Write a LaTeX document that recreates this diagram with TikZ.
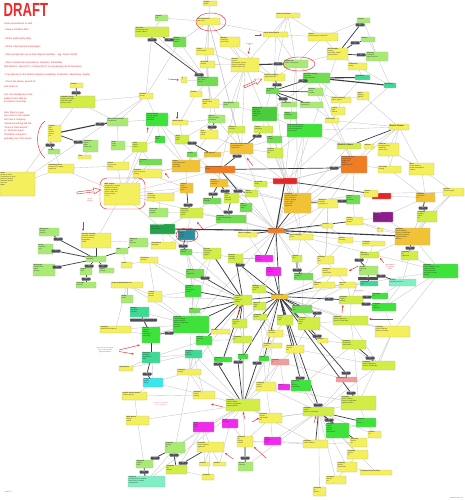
\documentclass[tikz,border=0pt]{standalone}
\usepackage{fontspec}
\setmainfont{Liberation Sans}
\usetikzlibrary{backgrounds,arrows.meta}
\definecolor{cY}{HTML}{F4EF5C}
\definecolor{cYG}{HTML}{D4EC46}
\definecolor{cLG}{HTML}{A8EA72}
\definecolor{cG}{HTML}{72DC52}
\definecolor{cBG}{HTML}{3EE23A}
\definecolor{cBG2}{HTML}{4CCC3C}
\definecolor{cDG}{HTML}{24A44A}
\definecolor{cTG}{HTML}{3CDA94}
\definecolor{cLT}{HTML}{80F0C4}
\definecolor{cOY}{HTML}{F2C236}
\definecolor{cOR}{HTML}{F07C24}
\definecolor{cRD}{HTML}{E42626}
\definecolor{cMG}{HTML}{F02AEA}
\definecolor{cPU}{HTML}{8E1C8E}
\definecolor{cCY}{HTML}{3AE6EC}
\definecolor{cSA}{HTML}{F29C9C}
\definecolor{cTD}{HTML}{2A8E9E}
\definecolor{lg}{HTML}{C6C6C6}
\definecolor{dk}{HTML}{3A3A42}
\definecolor{eg}{HTML}{50505C}
\definecolor{rA}{HTML}{EE2A2A}
\definecolor{pk}{HTML}{F07878}
\tikzset{
 box/.style={draw=black!28, line width=0.2pt, rounded corners=0.4pt, inner sep=0pt},
 btx/.style={inner sep=0pt, align=left, font=\fontsize{1.6}{1.95}\selectfont, text=black!80},
 elab/.style={fill=eg, draw=none, rounded corners=0.6pt, minimum width=9pt, minimum height=3pt, inner sep=0pt, font=\fontsize{1.2}{1.2}\selectfont, text=white},
 gl/.style={draw=lg, line width=0.35pt},
 dl/.style={draw=dk, line width=0.7pt},
 tdl/.style={draw=dk, line width=1.1pt},
 ann/.style={draw=rA, line width=0.45pt},
 arr/.style={ann,-{Stealth[length=2.4pt,width=2pt]}},
 rt/.style={text=rA, font=\fontsize{2.4}{3.6}\selectfont, inner sep=0pt, align=left},
 rs/.style={text=rA, font=\fontsize{1.5}{1.8}\selectfont, inner sep=0pt, align=center},
 gt/.style={text=black!55, font=\fontsize{1.8}{2}\selectfont, inner sep=0pt},
}
\newcommand\bx[7]{\node[box,fill=#6,minimum width={(#4-#2)*1pt},minimum height={(#5-#3)*1pt}] (#1) at ({(#2+#4)/2},{(#3+#5)/2}) {};
\node[btx,anchor=north west] (#1t) at ([shift={(0.7pt,-0.6pt)}]#1.north west) {#7};}
\newcommand\el[3]{\node[elab] (#1) at (#2,#3) {link};}
\begin{document}
\begin{tikzpicture}[x=1pt,y=-1pt]
\useasboundingbox (0,0) rectangle (465,500);
% ---------- title and notes ----------
\node[anchor=base west, inner sep=0, text=rA, font=\fontsize{19}{19}\selectfont\bfseries] (draft) at (3.5,17) {\scalebox{0.69}[1]{DRAFT}};
\node[rt,anchor=base west] (t1) at (4,25) {Some associations to add:};
\node[rt,anchor=base west] (t2) at (4,31) {- Steven and Man Rick};
\node[rt,anchor=base west] (t3) at (4,39.5) {- All the preferred by Billy};
\node[rt,anchor=base west] (t4) at (4,48) {- All the Lolly Express Passengers};
\node[rt,anchor=base west] (t5) at (4,56) {- Other people who are in that network and their... (eg. Xavier Smith)};
\node[rt,anchor=north west] (t6) at (4,61.5) {- Xtra's commercial associations, networks, friendships\\(friendship?), interest (?), commercial (?) (some people just do business)};
\node[rt,anchor=base west] (t8) at (4,76) {- Pay attention to the fashion industry (modelling, production, advertising, media)};
\node[rt,anchor=base west] (t9) at (4,83) {- Check the above, search for};
\node[rt,anchor=base west] (t10) at (4,88) {Kim DotCom};
\node[rt,anchor=north west] (t11) at (4,93.5) {You can already see some\\patterns here with an\\ecosystem involving.};
\node[rt,anchor=north west,font=\fontsize{2.4}{3.7}\selectfont] (t14) at (4,111.3) {Also, there's a guy\\very close to the captain\\who has a company\\named something like the\\"Dotcom International"\\or "Dotcom Invest".\\I find that connection\\probably one of his series.};
% ---------- nodes ----------
\bx{n1}{203}{1}{217}{6}{cY}{\textbf{Contact}\\details}
\bx{n2}{197}{18}{220}{25}{cY}{\textbf{The Connection}\\see notes}
\bx{n3}{276}{13}{300}{18}{cY}{\textbf{Person of interest}}
\bx{n4}{155}{15}{168}{21}{cLG}{\textbf{Contact}\\link}
\bx{n5}{135}{27}{169}{37}{cYG}{\textbf{Associate}\\Company director\\investor, partner}
\bx{n6}{173}{37}{186}{47}{cG}{\textbf{Partner}\\business\\relation}
\bx{n7}{220}{37}{240}{47}{cY}{\textbf{Manager}\\holding co.\\since 2009}
\bx{n8}{263}{32}{288}{37}{cY}{\textbf{Group Development}}
\bx{n9}{308}{33}{338}{41}{cY}{\textbf{Owner}\\advertising and media firm}
\bx{n10}{196}{48}{214}{55}{cY}{\textbf{Friend}\\social contact}
\bx{n11}{231}{58}{259}{72}{cY}{\textbf{Investor}\\Partner\\shareholder, director\\several companies\\linked entities 2011}
\bx{n12}{200}{61}{215}{68}{cY}{\textbf{Associate}\\founder}
\bx{n13}{284}{60}{308}{68}{cLG}{\textbf{Key Person}\\media, investments}
\bx{n14}{264}{74}{285}{81}{cY}{\textbf{Holding company}\\registered 2008}
\bx{n15}{266}{88}{279}{94}{cG}{\textbf{Company}\\owner}
\bx{n16}{303}{73}{330}{83}{cG}{\textbf{Network company}\\subsidiary\\registered office}
\bx{n17}{308}{88}{323}{96}{cLG}{\textbf{Director}\\board\\member}
\bx{n18}{281}{102}{297}{107}{cLG}{\textbf{Shareholder}}
\bx{n19}{300}{102}{323}{108}{cLG}{\textbf{Shareholder}\\company ltd}
\bx{n20}{181}{77}{187}{83}{cY}{\textbf{X}\\?}
\bx{n21}{197}{77}{218}{86}{cG}{\textbf{Production co.}\\film, music\\events}
\bx{n22}{190}{91}{202}{97}{cY}{\textbf{Contact}}
\bx{n23}{202}{99}{219}{108}{cY}{\textbf{Designer}\\fashion label\\studio}
\bx{n24}{223}{102}{239}{108}{cLG}{\textbf{Photographer}\\studio}
\bx{n25}{172}{120}{188}{125}{cY}{\textbf{Model agency}}
\bx{n26}{208}{115}{225}{123}{cLG}{\textbf{Agency}\\talent, models\\promotion}
\bx{n27}{252}{107}{277}{121}{cBG2}{\textbf{Media group}\\television\\radio, print\\advertising\\events}
\bx{n28}{284}{112}{297}{119}{cG}{\textbf{Studio}\\recording}
\bx{n29}{200}{130}{218}{139}{cY}{\textbf{Club}\\nightlife\\venue}
\bx{n30}{228}{126}{245}{133}{cYG}{\textbf{Event co.}\\promoter}
\bx{n31}{254}{126}{273}{133}{cYG}{\textbf{Partner}\\marketing}
\bx{n32}{287}{124}{322}{137}{cBG}{\textbf{Entertainment group}\\music, film, television\\artists management\\international}
\bx{n33}{267}{136}{282}{143}{cG}{\textbf{Label}\\records}
\bx{n34}{267}{148}{283}{158}{cYG}{\textbf{Director}\\producer\\film}
\bx{n35}{230}{143}{253}{154}{cOY}{\textbf{Business Development}\\consulting group\\investments}
\bx{n36}{175}{135}{189}{144}{cYG}{\textbf{Artist}\\singer\\band}
\bx{n37}{187}{152}{197}{157}{cG}{\textbf{Friend}}
\bx{n38}{204}{152}{221}{157}{cOY}{\textbf{Lolly Express}}
\bx{n39}{172}{160}{200}{172}{cOY}{\textbf{Owner}\\restaurants, clubs\\hospitality\\since 2005}
\bx{n40}{205}{166}{235}{173}{cOR}{\textbf{Holding International}\\group}
\bx{n41}{357}{18}{370}{23}{cLG}{\textbf{Contact}}
\bx{n42}{327}{48}{348}{60}{cY}{\textbf{Businessman}\\investor\\real estate, media\\entertainment}
\bx{n43}{361}{37}{375}{42}{cLG}{\textbf{Partner}}
\bx{n44}{366}{52}{388}{61}{cLG}{\textbf{Company}\\holding ltd\\registered 2010}
\bx{n45}{348}{63}{367}{70}{cY}{\textbf{Foundation}\\charity}
\bx{n46}{355}{75}{370}{80}{cTG}{\textbf{Subsidiary}}
\bx{n47}{384}{83}{396}{88}{cTG}{\textbf{Subsidiary}}
\bx{n48}{331}{97}{351}{103}{cY}{\textbf{Trading company}\\import, export}
\bx{n49}{357}{92}{369}{100}{cY}{\textbf{Agent}\\shipping\\logistics}
\bx{n50}{331}{107}{345}{115}{cY}{\textbf{Lawyer}\\legal\\counsel}
\bx{n51}{325}{118}{339}{123}{cY}{\textbf{Accountant}}
\bx{n52}{389}{124}{409}{130}{cY}{\textbf{\fontsize{2}{2}\selectfont Barack Obama}}
\bx{n53}{337}{143}{361}{149}{cYG}{\textbf{\fontsize{2}{2}\selectfont Michelle Obama}}
\bx{n54}{364}{144}{374}{149}{cY}{\textbf{Advisor}}
\bx{n55}{378}{143}{399}{156}{cY}{\textbf{Politician}\\campaign donor\\fundraiser\\events 2012}
\bx{n56}{341}{156}{367}{173}{cOR}{\textbf{Investment Fund}\\private equity\\hedge fund\\offshore\\registered 2007}
\bx{n57}{378}{166}{401}{173}{cY}{\textbf{Consultant}\\strategy}
\bx{n58}{409}{163}{434}{175}{cY}{\textbf{Bank}\\private banking\\wealth management\\offshore}
\bx{n60}{70}{83}{83}{88}{cY}{\textbf{Contact}}
\bx{n61}{60}{96}{95}{108}{cYG}{\textbf{Company Group}\\holding, real estate\\retail and media\\director, owner}
\bx{n62}{139}{93}{153}{99}{cY}{\textbf{Investor}\\partner}
\bx{n63}{146}{113}{168}{126}{cBG}{\textbf{Fashion house}\\clothing, design\\retail stores\\worldwide}
\bx{n64}{155}{136}{165}{143}{cBG}{\textbf{Brand}\\label}
\bx{n65}{48}{125}{61}{142}{cY}{\textbf{Captain}\\pilot\\airline\\aviation\\charter\\jets}
\bx{n66}{48}{149}{60}{154}{cLG}{\textbf{Airline}}
\bx{n67}{83}{140}{98}{152}{cLG}{\textbf{Aviation co.}\\charter\\flights\\private jets}
\bx{n68}{107}{118}{128}{126}{cLG}{\textbf{Dotcom International}\\investments}
\bx{n69}{111}{141}{125}{150}{cLG}{\textbf{Hotel}\\resort\\owner}
\bx{n70}{132}{142}{147}{152}{cYG}{\textbf{Yacht}\\charter\\marina}
\bx{n71}{78}{155}{91}{159}{cY}{\textbf{Pilot}}
\bx{n72}{48}{164}{74}{173}{cY}{\textbf{Something Invest}\\investment company\\registered}
\bx{n73}{107}{162}{129}{170}{cY}{\textbf{Partner}\\joint venture\\trading}
\bx{n74}{139}{159}{162}{165}{cG}{\textbf{Company}\\ltd}
\bx{n75}{0}{172}{35}{196}{cY}{\textbf{Notes}\\people to check\\connections to verify\\business network\\links and sources\\see also\\\textbf{more}}
\bx{n76}{104}{183}{140}{205}{cY}{\textbf{Main subject}\\entrepreneur, investor\\founder of several\\internet companies\\music, media, film\\links to fashion\\\textcolor{blue!60}{website}}
\bx{n77}{133}{169}{162}{178}{cY}{\textbf{Company}\\internet services\\hosting}
\bx{n78}{147}{193}{174}{201}{cY}{\textbf{Partner}\\co-founder\\technology}
\bx{n79}{149}{208}{168}{217}{cLG}{\textbf{Developer}\\software\\engineer}
\bx{n80}{150}{224}{175}{234}{cDG}{\color{white}\textbf{Internet company}\\file sharing\\cloud storage}
\bx{n81}{151}{242}{176}{249}{cY}{\textbf{Programmer}\\developer}
\bx{n82}{39}{228}{59}{236}{cLG}{\textbf{Bodyguard}\\security\\services}
\bx{n83}{81}{233}{111}{248}{cY}{\textbf{Security company}\\protection services\\personal security\\bodyguards\\events}
\bx{n84}{129}{238}{148}{247}{cLG}{\textbf{Employee}\\staff\\assistant}
\bx{n85}{38}{244}{53}{254}{cLG}{\textbf{Driver}\\chauffeur\\cars}
\bx{n86}{116}{248}{128}{254}{cLG}{\textbf{Staff}}
\bx{n87}{86}{256}{106}{262}{cLG}{\textbf{Security team}\\members}
\bx{n88}{121}{262}{132}{268}{cY}{\textbf{Guard}}
\bx{n89}{140}{257}{158}{263}{cY}{\textbf{Residence}\\mansion}
\bx{n90}{33}{264}{55}{276}{cLG}{\textbf{Bodyguard}\\former police\\officer\\security}
\bx{n91}{80}{268}{92}{275}{cLG}{\textbf{Guard}\\staff}
\bx{n92}{99}{268}{114}{273}{cLG}{\textbf{Guard}\\security}
\bx{n93}{76}{282}{96}{288}{cLG}{\textbf{Assistant}\\personal}
\bx{n94}{111}{282}{143}{288}{cY}{\textbf{Property Management Ltd}}
\bx{n95}{121}{295}{133}{303}{cLG}{\textbf{Estate}\\owner}
\bx{n96}{148}{291}{162}{302}{cY}{\textbf{Lawyer}\\law firm\\partner}
\bx{n97}{130}{307}{149}{317}{cTG}{\textbf{Manager}\\operations\\company}
\bx{n98}{142}{327}{160}{343}{cBG}{\textbf{Director}\\company\\founder\\chief officer\\technology}
\bx{n99}{100}{326}{131}{333}{cY}{\textbf{Company}\\software development}
\bx{n100}{142}{352}{160}{363}{cTG}{\textbf{Employee}\\developer\\programmer\\staff}
\bx{n101}{119}{366}{133}{371}{cY}{\textbf{Programmer}}
\bx{n102}{143}{378}{163}{387}{cCY}{\textbf{Designer}\\graphic\\design}
\bx{n103}{122}{392}{147}{400}{cY}{\textbf{Graphic Design Studio}\\creative agency}
\bx{n104}{126}{416}{149}{425}{cY}{\textbf{Web agency}\\design\\online}
\bx{n105}{136}{460}{153}{468}{cLG}{\textbf{Employee}\\support\\team}
\bx{n106}{128}{476}{165}{487}{cLT}{\textbf{Company}\\hosting, servers, network\\data centre, providers\\infrastructure}
\bx{n107}{273}{178}{297}{184}{cRD}{\color{white}\textbf{Kim Dotcom}}
\bx{n108}{180}{183}{193}{193}{cOY}{\textbf{Partner}\\owner\\company\\since}
\bx{n109}{210}{179}{228}{187}{cOY}{\textbf{Partner}\\investment\\company}
\bx{n110}{254}{181}{267}{187}{cYG}{\textbf{Associate}\\friend}
\bx{n111}{203}{198}{221}{204}{cG}{\textbf{Employee}\\manager}
\bx{n112}{224}{193}{239}{203}{cYG}{\textbf{Officer}\\chief\\financial\\company}
\bx{n113}{245}{190}{258}{197}{cYG}{\textbf{Officer}\\technical}
\bx{n114}{240}{203}{252}{212}{cG}{\textbf{Staff}\\member\\team}
\bx{n115}{284}{193}{311}{213}{cOY}{\textbf{Company}\\founder and CEO\\online services\\internet, storage\\music, video\\since 2005\\registered}
\bx{n116}{180}{208}{203}{218}{cYG}{\textbf{Company}\\advertising\\network\\online}
\bx{n117}{216}{215}{246}{223}{cG}{\textbf{Company}\\payment processing\\online}
\bx{n118}{268}{228}{284}{233}{cOR}{\textbf{Mega Group}}
\bx{n119}{178}{230}{195}{240}{cTD}{\color{white}\textbf{Company}\\limited\\founder\\director}
\bx{n120}{238}{232}{257}{237}{cY}{\textbf{Music company}}
\bx{n121}{289}{234}{313}{240}{cY}{\textbf{Video company}\\online}
\bx{n122}{180}{249}{192}{255}{cG}{\textbf{Founder}\\director}
\bx{n123}{203}{248}{221}{259}{cYG}{\textbf{Director}\\shareholder\\company\\register}
\bx{n124}{228}{254}{243}{263}{cYG}{\textbf{Director}\\manager\\company}
\bx{n125}{255}{255}{273}{262}{cMG}{\textbf{Artist}\\singer\\musician}
\bx{n126}{266}{267}{281}{276}{cMG}{\textbf{Artist}\\musician\\producer}
\bx{n127}{292}{255}{302}{262}{cYG}{\textbf{Partner}\\firm}
\bx{n128}{294}{273}{313}{280}{cG}{\textbf{Company}\\services\\ltd}
\bx{n129}{313}{282}{335}{288}{cY}{\textbf{Company}\\limited}
\bx{n130}{186}{269}{204}{278}{cG}{\textbf{Company}\\ltd\\registered}
\bx{n131}{185}{285}{201}{297}{cBG}{\textbf{Company}\\director\\shareholder\\founder}
\bx{n132}{252}{285}{266}{293}{cYG}{\textbf{Manager}\\company\\team}
\bx{n133}{271}{294}{288}{299}{cOY}{\textbf{Mega Company}}
\bx{n134}{234}{295}{252}{305}{cYG}{\textbf{Company}\\limited\\registered\\holding}
\bx{n135}{253}{302}{266}{310}{cYG}{\textbf{Director}\\officer\\staff}
\bx{n136}{189}{308}{200}{313}{cG}{\textbf{Staff}}
\bx{n137}{173}{316}{209}{333}{cBG}{\textbf{Company}\\limited, holdings\\registered office\\director, shareholder\\secretary\\nominee}
\bx{n138}{232}{319}{247}{328}{cYG}{\textbf{Director}\\company\\officer}
\bx{n139}{253}{314}{267}{320}{cYG}{\textbf{Company}\\director}
\bx{n140}{277}{315}{293}{325}{cYG}{\textbf{Partner}\\lawyer\\legal}
\bx{n141}{292}{305}{312}{313}{cG}{\textbf{Company}\\ltd\\trust}
\bx{n142}{298}{317}{320}{330}{cYG}{\textbf{Company}\\services\\online\\data}
\bx{n144}{372}{193}{391}{199}{cRD}{\color{white}\textbf{Contact}}
\bx{n143}{364}{190}{378}{197}{cY}{\textbf{Partner}\\friend}
\bx{n145}{416}{193}{435}{202}{cOY}{\textbf{Company}\\investment\\ltd}
\bx{n146}{443}{188}{464}{196}{cY}{\textbf{Investor}\\venture capital}
\bx{n147}{346}{195}{360}{204}{cG}{\textbf{Partner}\\friend\\associate}
\bx{n148}{318}{199}{338}{208}{cY}{\textbf{Employee}\\manager\\company ltd}
\bx{n149}{417}{211}{437}{222}{cYG}{\textbf{Company}\\services\\online\\ltd}
\bx{n150}{373}{212}{393}{222}{cPU}{\color{white}\textbf{Company}\\limited\\holding\\trust}
\bx{n151}{346}{217}{363}{225}{cY}{\textbf{Partner}\\company\\director}
\bx{n152}{322}{223}{333}{228}{cY}{\textbf{Contact}}
\bx{n153}{377}{228}{383}{232}{cY}{\textbf{X}}
\bx{n154}{395}{228}{430}{245}{cOY}{\textbf{Company}\\limited, holding\\director, shareholder\\secretary, nominee\\registered office\\address}
\bx{n155}{338}{237}{353}{243}{cY}{\textbf{Director}\\secretary}
\bx{n156}{362}{241}{385}{246}{cY}{\textbf{Company}\\nominee}
\bx{n157}{360}{252}{379}{258}{cYG}{\textbf{Director}\\shareholder}
\bx{n158}{401}{251}{418}{260}{cYG}{\textbf{Company}\\ltd\\registered}
\bx{n159}{423}{264}{458}{278}{cBG}{\textbf{Company}\\limited, holdings, trust\\registered office\\nominee director\\secretary services\\offshore}
\bx{n160}{317}{256}{334}{264}{cY}{\textbf{Company}\\ltd\\trust}
\bx{n161}{359}{266}{378}{275}{cLG}{\textbf{Trustee}\\company\\ltd}
\bx{n162}{322}{268}{347}{276}{cY}{\textbf{Company}\\director\\shareholder}
\bx{n163}{360}{281}{378}{286}{cTG}{\textbf{Company}\\trust}
\bx{n164}{389}{279}{416}{286}{cLT}{\textbf{Trustee}\\company services}
\bx{n165}{339}{282}{356}{288}{cY}{\textbf{Director}\\officer}
\bx{n166}{339}{296}{363}{304}{cYG}{\textbf{Company}\\limited\\holding}
\bx{n167}{372}{293}{388}{299}{cBG}{\textbf{Company}\\ltd}
\bx{n168}{372}{303}{396}{311}{cBG}{\textbf{Company}\\limited\\registered}
\bx{n169}{333}{316}{368}{325}{cYG}{\textbf{Company}\\limited, registered\\director, shareholder}
\bx{n170}{375}{326}{410}{337}{cY}{\textbf{Company}\\limited, holdings\\director, secretary}
\bx{n171}{196}{336}{212}{345}{cBG}{\textbf{Director}\\company\\ltd}
\bx{n172}{211}{329}{230}{334}{cY}{\textbf{Contact}}
\bx{n173}{233}{336}{252}{343}{cYG}{\textbf{Company}\\ltd}
\bx{n174}{268}{330}{283}{337}{cY}{\textbf{Partner}\\associate}
\bx{n175}{263}{343}{282}{348}{cY}{\textbf{Company}\\limited}
\bx{n176}{286}{345}{304}{353}{cY}{\textbf{Company}\\director\\ltd}
\bx{n177}{185}{350}{202}{358}{cTG}{\textbf{Company}\\limited\\holdings}
\bx{n178}{214}{357}{232}{362}{cBG}{\textbf{Company}\\ltd}
\bx{n179}{238}{354}{248}{359}{cBG}{\textbf{Director}}
\bx{n180}{259}{356}{269}{361}{cBG}{\textbf{Officer}}
\bx{n181}{271}{359}{289}{365}{cSA}{\textbf{Company}\\ltd}
\bx{n182}{177}{369}{201}{375}{cY}{\textbf{Company}\\holding}
\bx{n183}{256}{382}{276}{391}{cY}{\textbf{Company}\\limited\\director}
\bx{n184}{278}{384}{290}{390}{cMG}{\textbf{Artist}}
\bx{n185}{291}{380}{311}{391}{cBG}{\textbf{Company}\\ltd\\director\\shareholder}
\bx{n186}{193}{391}{215}{399}{cY}{\textbf{Company}\\limited\\holding}
\bx{n187}{226}{399}{260}{411}{cYG}{\textbf{Company}\\limited, holding\\director, shareholder\\registered office}
\bx{n188}{259}{413}{282}{423}{cY}{\textbf{Company}\\director\\shareholder\\ltd}
\bx{n189}{193}{422}{214}{432}{cMG}{\textbf{Artist}\\singer\\music}
\bx{n190}{222}{419}{238}{428}{cMG}{\textbf{Artist}\\musician}
\bx{n191}{264}{437}{281}{445}{cMG}{\textbf{Artist}\\producer\\music}
\bx{n192}{237}{436}{253}{447}{cY}{\textbf{Company}\\ltd\\holding\\director}
\bx{n193}{165}{442}{185}{453}{cLG}{\textbf{Company}\\director\\ltd}
\bx{n194}{197}{442}{224}{452}{cY}{\textbf{Company}\\limited, holding\\registered}
\bx{n195}{166}{465}{187}{474}{cYG}{\textbf{Company}\\ltd\\director}
\bx{n196}{199}{462}{210}{466}{cY}{\textbf{Contact}}
\bx{n197}{213}{462}{226}{466}{cY}{\textbf{Contact}}
\bx{n198}{238}{462}{253}{471}{cLG}{\textbf{Director}\\company}
\bx{n199}{202}{474}{214}{480}{cY}{\textbf{Company}}
\bx{n200}{342}{340}{366}{349}{cYG}{\textbf{Company}\\ltd, director\\shareholder}
\bx{n201}{317}{338}{328}{343}{cY}{\textbf{Contact}}
\bx{n202}{362}{361}{395}{370}{cYG}{\textbf{Company}\\limited, registered\\director, shareholder}
\bx{n203}{336}{377}{357}{382}{cSA}{\textbf{Company Ltd}}
\bx{n204}{341}{396}{376}{410}{cYG}{\textbf{Company}\\limited, holding\\director, shareholder\\registered office}
\bx{n205}{303}{407}{334}{416}{cYG}{\textbf{Company}\\limited\\director, shareholder}
\bx{n206}{356}{418}{376}{427}{cBG}{\textbf{Company}\\ltd\\director}
\bx{n207}{326}{423}{349}{438}{cBG}{\textbf{Company}\\limited\\holding\\director\\shareholder}
\bx{n208}{368}{431}{381}{438}{cY}{\textbf{Contact}\\ltd}
\bx{n209}{350}{438}{367}{447}{cY}{\textbf{Company}\\director\\ltd}
\bx{n210}{303}{440}{328}{448}{cY}{\textbf{Company}\\limited, holding}
\bx{n211}{347}{450}{368}{459}{cY}{\textbf{Company}\\director\\ltd}
\bx{n212}{337}{462}{357}{472}{cY}{\textbf{Company}\\director\\shareholder}
\bx{n213}{360}{470}{392}{475}{cY}{\textbf{Company limited holding}}
\bx{n214}{326}{476}{346}{484}{cY}{\textbf{Company}\\director\\ltd}
\bx{n215}{313}{487}{326}{496}{cY}{\textbf{Company}\\ltd\\director}
% ---------- edge labels ----------
\el{e1}{76}{93}\el{e2}{152}{40}\el{e3}{169}{40}\el{e4}{199}{75}\el{e5}{278}{64}
\el{e6}{277}{85}\el{e7}{303}{81}\el{e8}{283}{99}\el{e9}{360}{25}\el{e10}{355}{43}
\el{e11}{361}{55}\el{e12}{212}{127}\el{e13}{192}{143}\el{e14}{237}{156}\el{e15}{257}{136}
\el{e16}{100}{124}\el{e17}{78}{142}\el{e18}{50}{145}\el{e19}{334}{168}\el{e20}{213}{194}
\el{e21}{225}{191}\el{e22}{238}{191}\el{e23}{188}{205}\el{e24}{228}{212}\el{e25}{183}{246}
\el{e26}{240}{265}\el{e27}{297}{270}\el{e28}{205}{278}\el{e29}{342}{201}\el{e30}{423}{208}
\el{e31}{410}{248}\el{e32}{359}{260}\el{e34}{381}{276}
\el{e35}{329}{299}\el{e36}{367}{297}\el{e37}{366}{304}\el{e38}{317}{313}\el{e39}{58}{239}
\el{e40}{56}{251}\el{e41}{57}{267}\el{e42}{89}{266}\el{e43}{103}{266}\el{e44}{86}{279}
\el{e46}{147}{374}\el{e47}{155}{458}\el{e48}{144}{472}\el{e49}{218}{364}
\el{e50}{238}{362}\el{e51}{257}{363}\el{e52}{300}{378}\el{e53}{174}{455}\el{e54}{183}{463}
\el{e55}{245}{458}\el{e56}{169}{333}\el{e57}{318}{405}\el{e58}{346}{373}\el{e59}{351}{393}
\el{e60}{370}{358}\el{e61}{317}{336}\el{e62}{329}{420}
\node[elab,minimum width=20pt] (e33) at (368,278.5) {link};
\node[elab,minimum width=27pt] (e45) at (143.5,320) {link};
% ---------- annotations ----------
\draw[ann] (211,22) ellipse [x radius=15pt, y radius=9pt];
\draw[ann] (299,64) ellipse [x radius=16pt, y radius=7pt];
\draw[ann, rounded corners=7pt] (100,178) rectangle (145,209);
\draw[ann] (187,235) ellipse [x radius=11pt, y radius=7pt];
\draw[ann] (45,121) .. controls (35,128) and (35,150) .. (45,158);
\begin{scope}[shift={(77,193)}, rotate=7.4]
\draw[ann, line width=0.4pt] (0,1) -- (17,1) -- (17,3) -- (24,0) -- (17,-3) -- (17,-1) -- (0,-1) -- cycle;
\end{scope}
\begin{scope}[shift={(244,87)}, rotate=24]
\draw[ann, line width=0.4pt] (0,1) -- (13,1) -- (13,3) -- (19.5,0) -- (13,-3) -- (13,-1) -- (0,-1) -- cycle;
\end{scope}
\draw[arr] (250,47.5) -- (248,54);
\draw[arr] (255,35) -- (262,35);
\draw[arr] (168,79) -- (179,80);
\draw[arr] (177,112) -- (177,119);
\draw[arr] (147,133) -- (148,127);
\draw[arr] (253,166) -- (247,158);
\draw[arr] (83,222) -- (83,231);
\draw[arr] (203,229) -- (197,222);
\draw[arr] (169,178) -- (165,173);
\draw[arr] (358,266) -- (349,271);
\draw[arr] (384,263) -- (380,258);
\draw[arr] (342,313) -- (343,305);
\draw[arr] (393,319) -- (369,319);
\draw[arr] (238,314) -- (240,306);
\draw[arr] (119,350) -- (140,345);
\draw[arr] (119,351.5) -- (134,354);
\draw[arr] (223,407) -- (211,404);
\draw[arr] (245,419) -- (243,412);
\draw[arr] (252,422) -- (259,418);
\draw[arr] (266,458) -- (254,447);
\draw[arr] (233,459) -- (225,453);
\draw[arr] (314,423) -- (316,416);
\node[rs] (r1) at (249.5,44.5) {check this\\link};
\node[rs] (r2) at (90,200) {look at\\this one};
\node[rs] (r3) at (390,267) {same address\\as company\\above};
\node[rs] (r4) at (359,291) {check director};
\node[rs] (r5) at (105,350) {these two are connected\\via the same shared\\registered address};
\node[rs,text=pk] (r6) at (161,404.5) {companies registered\\on the same day};
\node[gt,anchor=west] (b1) at (5,492) {draft 0.1};
\node[gt,anchor=east] (b2) at (463,498) {network map v1};
% ---------- connectors ----------
\begin{pgfonlayer}{background}
\fill[white] (0,0) rectangle (465,500);
\foreach \a/\b in {n1/n2, n2/n4, n2/n10, n2/n11, n2/n21, n2/n8, n2/n6, n3/n8, n3/n13, n3/n11, n3/n9, n7/n11, n10/n11, n12/n11, n11/n14, n11/n23, n11/n24, n9/n13, n9/n42, n13/n42, n13/n16, n8/n13, n8/n14, n42/n45, n45/n46, n45/n47, n16/n48, n48/n49, n17/n48, n48/n50, n50/n51, n51/n52, n49/n52, n19/n51, n47/n107, n52/n55, n52/n54, n52/n56, n52/n57, n52/n58, n52/n32, n55/n57, n55/n58, n54/n56, n53/n32, n53/n56, n58/n146, n58/n145, n56/n107, n56/n115, n40/n107, n40/n39, n40/n109, n40/n110, n40/n118, n39/n108, n39/n38, n39/n37, n39/n77, n35/n34, n35/n33, n35/n30, n35/n38, n27/n31, n27/n28, n27/n32, n33/n32, n34/n32, n21/n22, n21/n23, n23/n24, n23/n29, n24/n30, n25/n26, n25/n36, n20/n21, n5/n62, n62/n61, n62/n63, n62/n68, n61/n68, n68/n63, n68/n69, n69/n70, n67/n71, n66/n72, n72/n73, n73/n70, n73/n76, n70/n74, n74/n77, n63/n64, n64/n70, n4/n5, n75/n72, n75/n62, n76/n77, n76/n78, n76/n83, n76/n118, n76/n108, n78/n79, n81/n80, n84/n81, n83/n84, n89/n88, n88/n86, n89/n96, n94/n95, n94/n96, n96/n131, n99/n98, n99/n94, n101/n100, n103/n102, n103/n104, n104/n106, n100/n177, n102/n186, n80/n119, n80/n116, n79/n116, n81/n119, n119/n117, n119/n123, n119/n131, n122/n130, n116/n111, n116/n117, n112/n113, n113/n110, n110/n107, n107/n115, n107/n121, n120/n118, n117/n118, n114/n118, n118/n124, n118/n127, n118/n128, n118/n126, n118/n148, n118/n152, n118/n155, n148/n152, n152/n155, n151/n150, n151/n153, n150/n145, n153/n154, n154/n149, n154/n146, n154/n159, n154/n157, n156/n157, n155/n156, n158/n159, n160/n162, n162/n165, n161/n163, n163/n165, n164/n168, n160/n128, n162/n133, n165/n166, n166/n169, n169/n170, n170/n202, n169/n200, n167/n164, n125/n126, n126/n132, n127/n128, n128/n129, n129/n141, n141/n142, n142/n176, n140/n176, n139/n175, n138/n173, n135/n174, n132/n124, n137/n136, n137/n171, n131/n136, n130/n131, n171/n173, n172/n173, n174/n175, n175/n183, n176/n181, n181/n183, n181/n184, n184/n185, n183/n188, n182/n186, n186/n187, n187/n188, n187/n189, n187/n190, n187/n192, n188/n191, n192/n191, n189/n194, n190/n192, n194/n196, n194/n197, n193/n177, n177/n186, n182/n177, n205/n208, n205/n211, n205/n212, n205/n213, n205/n214, n205/n215, n210/n187, n205/n188, n185/n205, n199/n195, n198/n192, n106/n187, n118/n56, n118/n42, n118/n32, n118/n159, n118/n137, n133/n159, n133/n202, n187/n133, n187/n134, n40/n76, n40/n11, n107/n13, n2/n30, n134/n76, n134/n89, n134/n96, n63/n118, n35/n118, n147/n151, n143/n146, n144/n145, n115/n143, n121/n160, n157/n166, n183/n204, n204/n206, n185/n200, n176/n202, n181/n203, n61/n75, n72/n76, n98/n102, n106/n193, n133/n170, n133/n169, n26/n36, n29/n35, n12/n23, n22/n25, n131/n182, n123/n137, n134/n182, n187/n193, n135/n183, n138/n178, n188/n192, n209/n210, n212/n214}
  \draw[gl] (\a) -- (\b);
\foreach \a/\b in {n2/n12, n3/n14, n7/n14, n10/n21, n8/n9, n13/n14, n16/n27, n27/n14, n11/n27, n11/n35, n2/n35, n26/n35, n30/n38, n29/n39, n24/n27, n21/n26, n63/n39, n62/n6, n5/n21, n6/n21, n63/n76, n70/n76, n74/n76, n64/n39, n77/n108, n78/n108, n77/n39, n109/n115, n111/n117, n113/n115, n114/n120, n116/n119, n122/n123, n123/n124, n124/n125, n120/n125, n121/n127, n128/n141, n121/n148, n148/n160, n155/n160, n152/n160, n162/n129, n129/n165, n141/n165, n142/n169, n140/n174, n139/n174, n138/n135, n132/n135, n136/n171, n130/n123, n131/n137, n122/n131, n89/n131, n96/n137, n97/n137, n94/n137, n98/n137, n99/n137, n100/n171, n101/n177, n104/n187, n103/n186, n102/n182, n105/n193, n177/n187, n182/n187, n171/n187, n173/n187, n175/n187, n174/n187, n183/n187, n181/n187, n176/n205, n176/n185, n183/n205, n188/n205, n191/n205, n191/n210, n192/n210, n198/n205, n199/n194, n196/n189, n197/n190, n195/n189, n193/n189, n204/n205, n202/n205, n203/n205, n206/n207, n208/n206, n207/n209, n211/n212, n213/n212, n204/n200, n200/n201, n201/n174, n170/n204, n168/n170, n169/n202, n159/n170, n159/n168, n158/n164, n149/n158, n146/n149, n145/n154, n150/n154, n151/n154, n147/n148, n143/n147, n57/n145, n56/n57, n56/n147, n56/n148, n115/n148, n115/n121, n107/n56, n53/n115, n32/n115, n27/n115, n34/n107, n33/n107, n35/n107, n31/n107, n14/n107, n13/n115, n16/n56, n17/n56, n28/n32, n41/n44, n9/n41, n44/n47, n46/n48, n43/n44}
  \draw[gl] (\a) -- (\b);
\foreach \a/\l/\b in {n60/e1/n61, n5/e3/n6, n14/e6/n15, n15/e7/n16, n15/e8/n18, n42/e9/n41, n42/e10/n43, n42/e11/n44, n40/e19/n56, n65/e17/n67, n65/e18/n66, n26/e12/n29, n36/e13/n38, n31/e15/n35, n35/e14/n40, n109/e20/n111, n109/e21/n112, n40/e22/n113, n108/e23/n116, n112/e24/n117, n119/e25/n122, n124/e26/n133, n127/e27/n128, n130/e28/n134, n115/e29/n147, n145/e30/n149, n154/e31/n158, n157/e32/n161, n161/e33/n163, n161/e34/n164, n133/e35/n166, n166/e36/n167, n166/e37/n168, n133/e38/n142, n82/e39/n87, n85/e40/n87, n90/e41/n87, n87/e42/n91, n87/e43/n92, n91/e44/n93, n97/e45/n98, n100/e46/n102, n193/e47/n105, n105/e48/n106, n178/e49/n187, n179/e50/n187, n180/e51/n187, n133/e52/n185, n193/e53/n195, n194/e54/n195, n192/e55/n198, n137/e56/n98, n133/e57/n205, n133/e58/n203, n133/e59/n204, n200/e60/n202, n133/e61/n201, n205/e62/n207}
  \draw[dl] (\a) -- (\l) -- (\b);
\draw[dl] (n5) -- (e2) -- (e4) -- (n21);
\foreach \a/\b in {n15/n17, n15/n19, n53/n52, n83/n87, n87/n86, n86/n84, n98/n100, n118/n115, n118/n133, n118/n121, n118/n120, n107/n143, n118/n125, n118/n151, n133/n134, n133/n132, n133/n135, n133/n139, n133/n140, n133/n141, n133/n179, n133/n180, n133/n176, n133/n129, n133/n126, n134/n123, n134/n131, n134/n137, n134/n138, n134/n171, n134/n178, n134/n136, n134/n124, n205/n206, n205/n210, n205/n209}
  \draw[dl] (\a) -- (\b);
\draw[tdl] (n16) -- (n46);
\draw[tdl] (n16) -- (n47);
\draw[tdl] (n11) -- (e5) -- (n13);
\draw[tdl] (n118) -- (n154);
\draw[tdl] (n118) -- (n107);
\draw[tdl] (n80) -- (n118);
\draw[tdl] (n65) -- (e16) -- (n68);
\end{pgfonlayer}
\end{tikzpicture}
\end{document}
